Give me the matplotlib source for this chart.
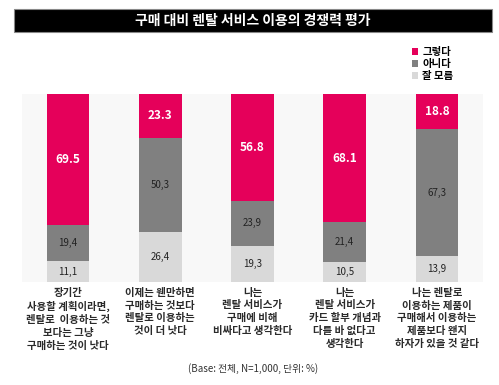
import matplotlib
matplotlib.use("Agg")
import matplotlib.pyplot as plt
from matplotlib.patches import Rectangle

plt.rcParams['font.family'] = ['Noto Sans CJK KR', 'DejaVu Sans']

categories = [
    "장기간\n사용할 계획이라면,\n렌탈로  이용하는 것\n보다는 그냥\n구매하는 것이 낫다",
    "이제는 웬만하면\n구매하는 것보다\n렌탈로 이용하는\n것이 더 낫다",
    "나는\n렌탈 서비스가\n구매에 비해\n비싸다고 생각한다",
    "나는\n렌탈 서비스가\n카드 할부 개념과\n다를 바 없다고\n생각한다",
    "나는 렌탈로\n이용하는 제품이\n구매해서 이용하는\n제품보다 왠지\n하자가 있을 것 같다",
]
yes_vals = [69.5, 23.3, 56.8, 68.1, 18.8]
no_vals = [19.4, 50.3, 23.9, 21.4, 67.3]
unknown_vals = [11.1, 26.4, 19.3, 10.5, 13.9]
series_names = ["그렇다", "아니다", "잘 모름"]

c_yes = "#e5005a"
c_no = "#808080"
c_unk = "#d9d9d9"

W, H = 499, 385
fig = plt.figure(figsize=(W / 100, H / 100), dpi=100)
fig.patch.set_facecolor("white")

# title bar
fig.patches.append(Rectangle((14 / W, 1 - 32 / H), 478 / W, 23 / H,
                             transform=fig.transFigure, facecolor="black",
                             edgecolor="#888888", linewidth=0.8))
fig.text(253 / W, 1 - 20.5 / H, "구매 대비 렌탈 서비스 이용의 경쟁력 평가",
         color="white", fontsize=10, fontweight="bold", ha="center", va="center")

ax = fig.add_axes([22 / W, 1 - 282 / H, 461 / W, 188 / H])
ax.set_facecolor("#f8f8f8")
x = list(range(len(categories)))
bw = 0.46
b_unk = ax.bar(x, unknown_vals, width=bw, color=c_unk, label=series_names[2])
b_no = ax.bar(x, no_vals, width=bw, bottom=unknown_vals, color=c_no, label=series_names[1])
bottoms_yes = [u + n for u, n in zip(unknown_vals, no_vals)]
b_yes = ax.bar(x, yes_vals, width=bw, bottom=bottoms_yes, color=c_yes, label=series_names[0])

for i in x:
    ax.text(i, unknown_vals[i] / 2, f"{unknown_vals[i]:.1f}".replace(".", ","),
            ha="center", va="center", fontsize=7, color="#222222")
    ax.text(i, unknown_vals[i] + no_vals[i] / 2, f"{no_vals[i]:.1f}".replace(".", ","),
            ha="center", va="center", fontsize=7, color="#222222")
    ax.text(i, bottoms_yes[i] + yes_vals[i] / 2, f"{yes_vals[i]:.1f}",
            ha="center", va="center", fontsize=8.5, color="white", fontweight="bold")
    ax.text(i, -3.0, categories[i], ha="center", va="top", fontsize=7.5,
            color="#2a2a2a", linespacing=1.35, clip_on=False, fontweight="bold")

ax.set_xlim(-0.5, 4.5)
ax.set_ylim(0, 100)
ax.set_xticks([])
ax.set_yticks([])
for s in ax.spines.values():
    s.set_visible(False)

fig.legend(handles=[b_yes, b_no, b_unk], labels=series_names,
           loc="upper left", bbox_to_anchor=(412 / W, 1 - 47 / H),
           frameon=False, fontsize=7.5, handlelength=0.6, handleheight=0.6,
           handletextpad=0.4, labelspacing=0.2, borderaxespad=0, borderpad=0,
           prop={'weight': 'bold', 'size': 7.5})

fig.text(253 / W, 1 - 369 / H, "(Base: 전체, N=1,000, 단위: %)",
         ha="center", va="center", fontsize=7, color="#333333")

fig.savefig("out.png", dpi=100)
